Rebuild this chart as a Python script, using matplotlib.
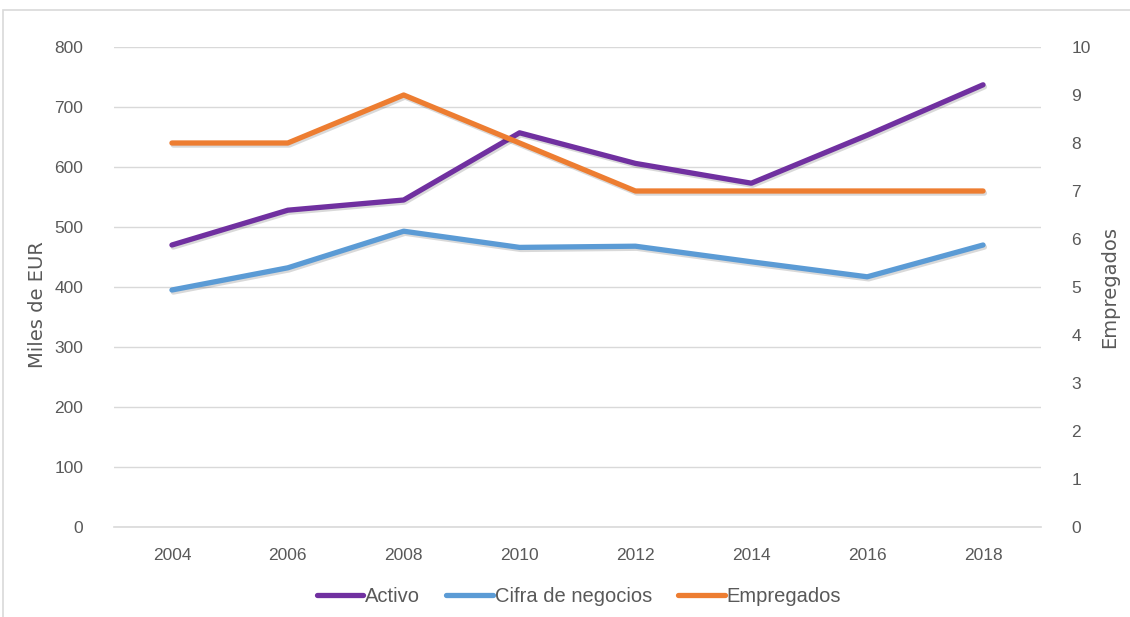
import matplotlib
matplotlib.use("Agg")
import matplotlib.pyplot as plt
import matplotlib.patheffects as pe
from matplotlib.patches import Rectangle

years = ["2004", "2006", "2008", "2010", "2012", "2014", "2016", "2018"]
activo = [470, 528, 545, 657, 606, 573, 653, 737]
cifra_negocios = [395, 432, 493, 466, 468, 442, 417, 470]
empregados = [8, 8, 9, 8, 7, 7, 7, 7]

left_ticks = [0, 100, 200, 300, 400, 500, 600, 700, 800]
right_ticks = [0, 1, 2, 3, 4, 5, 6, 7, 8, 9, 10]

c_activo = "#7030A0"
c_cifra = "#5B9BD5"
c_emp = "#ED7D31"
grey = "#595959"
tick_font = ["Liberation Sans Narrow", "Liberation Sans", "DejaVu Sans"]

fig = plt.figure(figsize=(11.3, 6.17), dpi=100)
fig.patches.append(Rectangle((3 / 1130, -0.01), 1.02, 1 - 10 / 617 + 0.01,
                             transform=fig.transFigure, fill=False,
                             edgecolor="#d9d9d9", linewidth=1.2))

ax = fig.add_axes([114 / 1130, 1 - 527 / 617, (1041 - 114) / 1130, (527 - 47) / 617])
ax2 = ax.twinx()

x = list(range(len(years)))
shadow = [pe.SimpleLineShadow(offset=(1.0, -1.5), alpha=0.15, shadow_color="black"), pe.Normal()]

l1, = ax.plot(x, activo, color=c_activo, lw=3.8, solid_capstyle="round",
              solid_joinstyle="round", path_effects=shadow, label="Activo", zorder=3)
l2, = ax.plot(x, cifra_negocios, color=c_cifra, lw=3.8, solid_capstyle="round",
              solid_joinstyle="round", path_effects=shadow, label="Cifra de negocios", zorder=3)
l3, = ax2.plot(x, empregados, color=c_emp, lw=3.8, solid_capstyle="round",
               solid_joinstyle="round", path_effects=shadow, label="Empregados", zorder=3)

ax.set_xlim(-0.5, len(years) - 0.5)
ax.set_ylim(0, 800)
ax2.set_ylim(0, 10)
ax.set_yticks(left_ticks)
ax2.set_yticks(right_ticks)
ax.set_xticks(x)
ax.set_xticklabels(years)

ax.grid(axis="y", color="#d9d9d9", linewidth=1)
ax.set_axisbelow(True)
for a in (ax, ax2):
    for s in a.spines.values():
        s.set_visible(False)
ax.spines["bottom"].set_visible(True)
ax.spines["bottom"].set_color("#d9d9d9")
ax.spines["bottom"].set_linewidth(1.2)

ax.tick_params(axis="both", length=0, colors=grey, labelsize=12.5)
ax2.tick_params(axis="y", length=0, colors=grey, labelsize=12.5)
ax.tick_params(axis="x", pad=15)
ax.tick_params(axis="y", pad=22)
ax2.tick_params(axis="y", pad=22)
for lab in ax.get_xticklabels() + ax.get_yticklabels() + ax2.get_yticklabels():
    lab.set_fontfamily(tick_font)

ax.set_ylabel("Miles de EUR", color=grey, fontsize=14, fontfamily="DejaVu Sans")
ax.yaxis.set_label_coords(-67 / 927, (527 - 305) / 480)
ax2.set_ylabel("Empregados", color=grey, fontsize=14, fontfamily="DejaVu Sans")
ax2.yaxis.set_label_coords(1 + 59 / 927, (527 - 287) / 480)

leg = fig.legend(handles=[l1, l2, l3], loc="center", bbox_to_anchor=(579 / 1130, 1 - 597 / 617),
                 ncol=3, frameon=False, handlelength=2.3, handletextpad=0.1, columnspacing=1.3,
                 prop={"family": ["Liberation Sans", "DejaVu Sans"], "size": 14.5})
for t in leg.get_texts():
    t.set_color(grey)
for h in leg.get_lines():
    h.set_path_effects([])
    h.set_linewidth(3.8)

fig.savefig("out.png", dpi=100)
